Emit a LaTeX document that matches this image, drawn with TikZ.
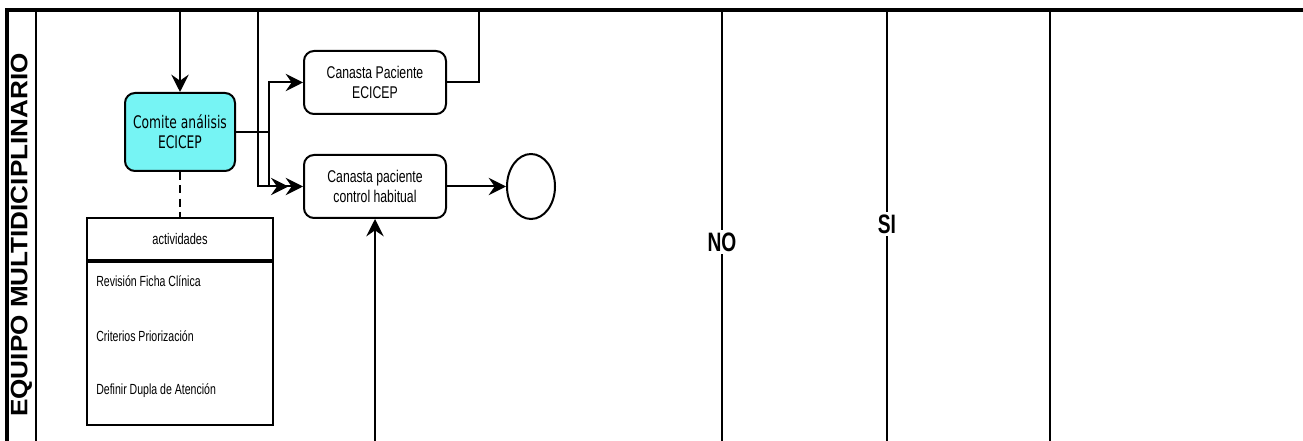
\documentclass[tikz,border=0pt]{standalone}
\usepackage{fontspec}
\setmainfont{Liberation Sans}
\newfontfamily\boxfont[FakeStretch=0.72]{Liberation Sans}
\newfontfamily\comitefont[FakeStretch=0.71]{DejaVu Sans}
\newfontfamily\lanefont[FakeStretch=1.1]{Liberation Sans}
\usetikzlibrary{positioning, shapes.geometric, arrows.meta}
\definecolor{cyanbox}{RGB}{118,244,244}

\begin{document}
\begin{tikzpicture}[
         x=0.75pt, y=-0.75pt,
         >={Stealth[length=13pt, width=13pt, inset=4.5pt]},
         flow/.style={line width=1.5pt},
         lane/.style={line width=1.1pt},
         task/.style={rectangle, rounded corners=7.5pt, draw, line width=1.5pt, align=center,
            minimum width=106.5pt, minimum height=47.25pt, font=\boxfont\fontsize{12.75}{15}\selectfont},
         comite/.style={task, fill=cyanbox, minimum width=82.5pt, minimum height=58.5pt,
            font=\comitefont\fontsize{13}{15}\selectfont},
         endevent/.style={ellipse, draw, line width=1.5pt, minimum width=36pt, minimum height=48.75pt, inner sep=0pt},
         actbox/.style={rectangle, draw, line width=1.5pt, minimum width=139.5pt, inner sep=0pt,
            font=\boxfont\fontsize{11.5}{13}\selectfont},
         actitem/.style={anchor=west, inner sep=0pt, font=\boxfont\fontsize{11}{13}\selectfont},
         decision/.style={fill=white, inner sep=2pt, font=\boxfont\bfseries\fontsize{20}{24}\selectfont}
      ]
         \useasboundingbox (0,0) rectangle (1303,441);

         % Pool and lane
         \draw[line width=2.4pt] (7,441) -- (7,10) -- (1303,10);
         \draw[lane] (36,10) -- (36,441);
         \node[rotate=90, font=\lanefont\bfseries\fontsize{17.8}{20}\selectfont] (lanelbl) at (21.5,235) {EQUIPO MULTIDICIPLINARIO};

         % Separators with labels
         \draw[lane] (722,10) -- node[decision, pos=0.538] (no) {NO} (722,441);
         \draw[lane] (887,10) -- node[decision, pos=0.497] (si) {SI} (887,441);
         \draw[lane] (1050,10) -- (1050,441);

         % Tasks
         \node[comite] (comite) at (180,132) {Comite análisis\\ECICEP};
         \node[task] (canE) at (375,82.5) {Canasta Paciente\\ECICEP};
         \node[task] (canC) at (375,186.5) {Canasta paciente\\control habitual};
         \node[endevent] (fin) at (531,186.5) {};

         % Activities box
         \node[actbox, minimum height=31.5pt] (acthead) at (180,239) {actividades};
         \node[actbox, minimum height=122.25pt, below=0pt of acthead] (actbody) {};
         \node[actitem] (rev) at (96,281) {Revisión Ficha Clínica};
         \node[actitem] (crit) at (96,336) {Criterios Priorización};
         \node[actitem] (dupla) at (96,391) {Definir Dupla de Atención};

         % Free ends on the pool border
         \coordinate (topA) at (180,10);
         \coordinate (topB) at (258,10);
         \coordinate (topC) at (479,10);
         \coordinate (botA) at (375,441);
         \coordinate (split) at (269,132);

         % Flows
         \draw[flow, ->] (topA) -- (comite);
         \draw[flow] (comite.east) -- (split);
         \draw[flow, ->] (split) |- (canE);
         \draw[flow, ->, shorten >=11pt] (split) |- (canC);
         \draw[flow, ->] (topB) |- (canC);
         \draw[flow] (canE.east) -| (topC);
         \draw[flow, ->] (canC) -- (fin);
         \draw[flow, ->] (botA) -- (canC);
         \draw[flow, dash pattern=on 6pt off 4pt] (comite) -- (acthead);

      \end{tikzpicture}
\end{document}
